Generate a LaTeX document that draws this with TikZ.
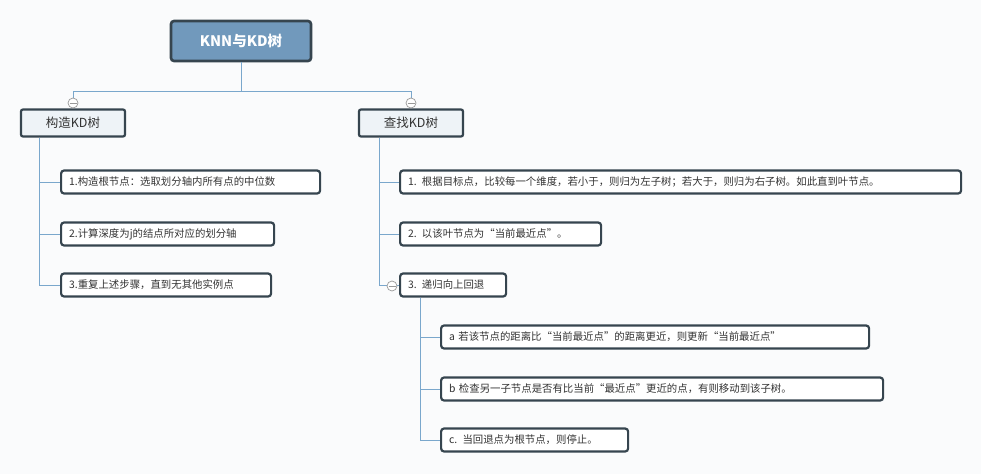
\documentclass[tikz,border=0pt]{standalone}
\usepackage{fontspec}
\newfontfamily\cjk{Noto Sans CJK SC}
\usetikzlibrary{calc}
\definecolor{rootblue}{HTML}{7199BC}
\definecolor{edgeblue}{HTML}{7AA7CC}
\definecolor{boxline}{HTML}{36454F}
\definecolor{topicfill}{HTML}{EEF3F7}
\definecolor{paper}{HTML}{FAFBFC}
\begin{document}
\begin{tikzpicture}[x=1pt,y=-1pt,
root/.style = {% central topic
    draw=boxline, line width=2.6pt, rounded corners=3pt, fill=rootblue,
    text=white, font=\cjk\fontsize{14.5}{16}\selectfont\bfseries,
    minimum width=140pt, minimum height=40pt, inner sep=0pt,
            },
topic/.style = {% main branches
    draw=boxline, line width=2.2pt, rounded corners=2pt, fill=topicfill,
    font=\cjk\fontsize{12.5}{14}\selectfont, text=black!80,
    minimum width=104pt, minimum height=27pt, inner sep=0pt,
            },
leaf/.style = {% sub topics
    draw=boxline, line width=2.2pt, rounded corners=3pt, fill=white,
    font=\cjk\fontsize{10.4}{12}\selectfont, text=black!80,
    minimum height=23pt, inner sep=0pt, anchor=west,
    text width=#1-16pt, align=left, inner xsep=8pt,
            },
link/.style = {draw=edgeblue, line width=0.8pt},
fold/.style = {draw=gray!80, fill=white, line width=0.7pt},
                        ]
  \fill[paper] (0,0) rectangle (981,474);
  \useasboundingbox (0,0) rectangle (981,474);

  \node[root]  (knn)    at (241,41)  {KNN与KD树};
  \node[topic] (build)  at (73,123)  {构造KD树};
  \node[topic] (search) at (411,123) {查找KD树};

  \node[leaf=259pt] (b1) at (60,182) {1.构造根节点：选取划分轴内所有点的中位数};
  \node[leaf=213pt] (b2) at (60,234) {2.计算深度为j的结点所对应的划分轴};
  \node[leaf=210pt] (b3) at (60,285) {3.重复上述步骤，直到无其他实例点};

  \node[leaf=561pt] (s1) at (399,182) {1. 根据目标点，比较每一个维度，若小于，则归为左子树；若大于，则归为右子树。如此直到叶节点。};
  \node[leaf=201pt] (s2) at (399,234) {2. 以该叶节点为“当前最近点”。};
  \node[leaf=106pt] (s3) at (399,285) {3. 递归向上回退};

  \node[leaf=428pt] (r1) at (440,337) {a 若该节点的距离比“当前最近点”的距离更近，则更新“当前最近点”};
  \node[leaf=442pt] (r2) at (440,389) {b 检查另一子节点是否有比当前“最近点”更近的点，有则移动到该子树。};
  \node[leaf=187pt] (r3) at (440,440) {c. 当回退点为根节点，则停止。};

  % connectors
  \draw[link] (knn.south) -- ++(0,29) -| (build.north);
  \draw[link] (knn.south) -- ++(0,29) -| (search.north);
  \foreach \n in {b1,b2,b3}
    \draw[link] ($(build.south west)+(19,0)$) |- (\n.west);
  \foreach \n in {s1,s2,s3}
    \draw[link] ($(search.south west)+(21,0)$) |- (\n.west);
  \foreach \n in {r1,r2,r3}
    \draw[link] ($(s3.south west)+(21,0)$) |- (\n.west);

  % fold markers
  \foreach \p in {(73,103),(411,103),(392,286)}{
    \draw[fold] \p circle (5pt);
    \draw[gray!80, line width=0.7pt] \p ++(-3.5,0) -- ++(7,0);
  }
\end{tikzpicture}
\end{document}
